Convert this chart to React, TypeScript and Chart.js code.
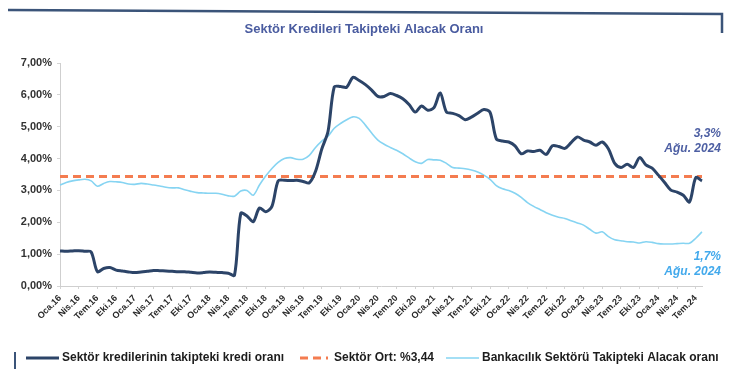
import React, { useEffect, useRef } from "react";
import { Chart, registerables } from "chart.js";

Chart.register(...registerables);

const MONTHS = ["Oca", "Şub", "Mar", "Nis", "May", "Haz", "Tem", "Ağu", "Eyl", "Eki", "Kas", "Ara"];
const YEARS = [16, 17, 18, 19, 20, 21, 22, 23, 24];
const LAST_MONTH_INDEX_2024 = 7; // Ağu.24

// Monthly labels Oca.16 … Ağu.24
const categories: string[] = [];
YEARS.forEach((y) => {
  MONTHS.forEach((m, i) => {
    if (y < 24 || i <= LAST_MONTH_INDEX_2024) categories.push(`${m}.${y}`);
  });
});

const TITLE = "Sektör Kredileri Takipteki Alacak Oranı";

const sectorLabel = "Sektör kredilerinin takipteki kredi oranı";
const sectorValues = [
  1.10, 1.09, 1.10, 1.11, 1.09, 1.07, 0.45, 0.55, 0.58, 0.50, 0.47, 0.44,
  0.42, 0.44, 0.46, 0.49, 0.48, 0.47, 0.46, 0.45, 0.45, 0.43, 0.41, 0.42,
  0.44, 0.43, 0.42, 0.40, 0.34, 2.28, 2.20, 2.02, 2.45, 2.33, 2.50, 3.30,
  3.32, 3.31, 3.32, 3.28, 3.24, 3.60, 4.30, 4.85, 6.25, 6.26, 6.24, 6.55,
  6.45, 6.32, 6.15, 5.95, 5.95, 6.04, 5.98, 5.88, 5.70, 5.46, 5.65, 5.52,
  5.60, 6.06, 5.46, 5.42, 5.35, 5.22, 5.30, 5.42, 5.54, 5.45, 4.62, 4.55,
  4.52, 4.40, 4.15, 4.24, 4.22, 4.26, 4.13, 4.40, 4.38, 4.32, 4.50, 4.68,
  4.58, 4.52, 4.42, 4.52, 4.30, 3.85, 3.72, 3.82, 3.72, 4.03, 3.80, 3.70,
  3.48, 3.25, 3.01, 2.95, 2.85, 2.64, 3.40, 3.30,
];

const avgLabel = "Sektör Ort: %3,44";
const sectorAverage = 3.44;
const avgValues = categories.map(() => sectorAverage);

const bankingLabel = "Bankacılık Sektörü Takipteki Alacak oranı";
const bankingValues = [
  3.17, 3.25, 3.30, 3.33, 3.35, 3.30, 3.13, 3.22, 3.28, 3.27, 3.25, 3.20,
  3.19, 3.22, 3.20, 3.17, 3.14, 3.10, 3.08, 3.08, 3.02, 2.97, 2.93, 2.92,
  2.91, 2.91, 2.88, 2.83, 2.82, 2.98, 3.00, 2.85, 3.17, 3.45, 3.69, 3.88,
  4.00, 4.03, 3.98, 3.98, 4.10, 4.35, 4.55, 4.70, 4.95, 5.10, 5.22, 5.31,
  5.26, 5.05, 4.80, 4.58, 4.45, 4.35, 4.26, 4.15, 4.02, 3.90, 3.85, 3.97,
  3.96, 3.95, 3.85, 3.72, 3.70, 3.68, 3.64, 3.58, 3.48, 3.35, 3.15, 3.05,
  3.00, 2.91, 2.78, 2.62, 2.50, 2.40, 2.30, 2.22, 2.16, 2.12, 2.05, 1.98,
  1.91, 1.78, 1.66, 1.70, 1.55, 1.45, 1.42, 1.39, 1.38, 1.35, 1.39, 1.37,
  1.33, 1.32, 1.32, 1.33, 1.34, 1.34, 1.50, 1.70,
];

const endLabelSector = ["3,3%", "Ağu. 2024"];
const endLabelBanking = ["1,7%", "Ağu. 2024"];

const yTicks = [0, 1, 2, 3, 4, 5, 6, 7];

const NAVY = "#2c4468";
const ORANGE = "#f47c50";
const SKY = "#86d4f2";
const FONT = "'Liberation Sans', Arial, sans-serif";

const decorPlugin = {
  id: "decor",
  afterDraw(chart: any) {
    const ctx = chart.ctx as CanvasRenderingContext2D;
    ctx.save();

    // frame line across the top and down the right side
    ctx.strokeStyle = "#3b5479";
    ctx.lineWidth = 2.5;
    ctx.beginPath();
    ctx.moveTo(8, 10);
    ctx.lineTo(722, 14);
    ctx.lineTo(722, 33);
    ctx.stroke();
    // short frame stub at bottom-left
    ctx.lineWidth = 2;
    ctx.beginPath();
    ctx.moveTo(15, 352);
    ctx.lineTo(15, 369);
    ctx.stroke();

    // title
    ctx.fillStyle = "#4a5ca0";
    ctx.font = `bold 13px ${FONT}`;
    ctx.textAlign = "center";
    ctx.textBaseline = "middle";
    ctx.fillText(TITLE, 364, 29);

    // end-of-series labels
    ctx.font = `italic bold 12px ${FONT}`;
    ctx.textAlign = "right";
    ctx.fillStyle = "#4d5fa3";
    ctx.fillText(endLabelSector[0], 721, 134);
    ctx.fillText(endLabelSector[1], 721, 149);
    ctx.fillStyle = "#42a9ec";
    ctx.fillText(endLabelBanking[0], 721, 257);
    ctx.fillText(endLabelBanking[1], 721, 272);

    // legend
    const ds = chart.data.datasets;
    const items = [
      { ds: ds[0], x0: 26, x1: 59, tx: 62 },
      { ds: ds[1], x0: 300, x1: 328, tx: 334 },
      { ds: ds[2], x0: 446, x1: 479, tx: 482 },
    ];
    const ly = 358;
    ctx.font = `bold 12px ${FONT}`;
    ctx.textAlign = "left";
    ctx.textBaseline = "middle";
    items.forEach((it) => {
      ctx.strokeStyle = it.ds.borderColor;
      ctx.lineWidth = it.ds.borderWidth;
      ctx.setLineDash(it.ds.borderDash || []);
      ctx.beginPath();
      ctx.moveTo(it.x0, ly);
      ctx.lineTo(it.x1, ly);
      ctx.stroke();
      ctx.setLineDash([]);
      ctx.fillStyle = "#1c1c1c";
      ctx.fillText(it.ds.label, it.tx, ly);
    });

    ctx.restore();
  },
};

export default function App() {
  const canvasRef = useRef<HTMLCanvasElement | null>(null);

  useEffect(() => {
    if (!canvasRef.current) return;
    const chart = new Chart(canvasRef.current, {
      type: "line",
      data: {
        labels: categories,
        datasets: [
          {
            label: sectorLabel,
            data: sectorValues,
            borderColor: NAVY,
            borderWidth: 3,
            pointRadius: 0,
            tension: 0.3,
            order: 0,
          },
          {
            label: avgLabel,
            data: avgValues,
            borderColor: ORANGE,
            borderWidth: 3,
            borderDash: [8, 5],
            pointRadius: 0,
            order: 1,
          },
          {
            label: bankingLabel,
            data: bankingValues,
            borderColor: SKY,
            borderWidth: 1.6,
            pointRadius: 0,
            tension: 0.3,
            order: 2,
          },
        ],
      },
      options: {
        animation: false,
        responsive: false,
        maintainAspectRatio: false,
        layout: { padding: { left: 8, right: 29, top: 63, bottom: 43 } },
        plugins: {
          legend: { display: false },
          title: { display: false },
          tooltip: { enabled: false },
        },
        scales: {
          x: {
            type: "category",
            offset: false,
            grid: {
              drawOnChartArea: false,
              drawTicks: true,
              tickLength: 3,
              color: (c: any) => (c.index % 3 === 0 ? "#d4d4d4" : "rgba(0,0,0,0)"),
            },
            border: { display: true, color: "#cfcfcf", width: 1 },
            ticks: {
              autoSkip: false,
              maxRotation: 45,
              minRotation: 45,
              padding: 4,
              color: "#2a2a2a",
              font: { family: FONT, size: 9, weight: "bold" },
              callback: (_v: any, i: number) => (i % 3 === 0 ? categories[i] : ""),
            },
            afterFit: (s: any) => {
              s.height = 40;
            },
          },
          y: {
            min: 0,
            max: 7,
            afterBuildTicks: (s: any) => {
              s.ticks = yTicks.map((v) => ({ value: v }));
            },
            grid: {
              drawOnChartArea: false,
              drawTicks: true,
              tickLength: 3,
              color: "#d4d4d4",
            },
            border: { display: true, color: "#cfcfcf", width: 1 },
            ticks: {
              padding: 5,
              color: "#333333",
              font: { family: FONT, size: 11, weight: "bold" },
              callback: (v: any) => `${Number(v).toFixed(2).replace(".", ",")}%`,
            },
            afterFit: (s: any) => {
              s.width = 52;
            },
          },
        },
      },
      plugins: [decorPlugin],
    });
    return () => chart.destroy();
  }, []);

  return (
    <div style={{ position: "fixed", left: 0, top: 0, width: 731, height: 369, background: "#fff" }}>
      <canvas ref={canvasRef} width={731} height={369} style={{ width: 731, height: 369, display: "block" }} />
    </div>
  );
}
